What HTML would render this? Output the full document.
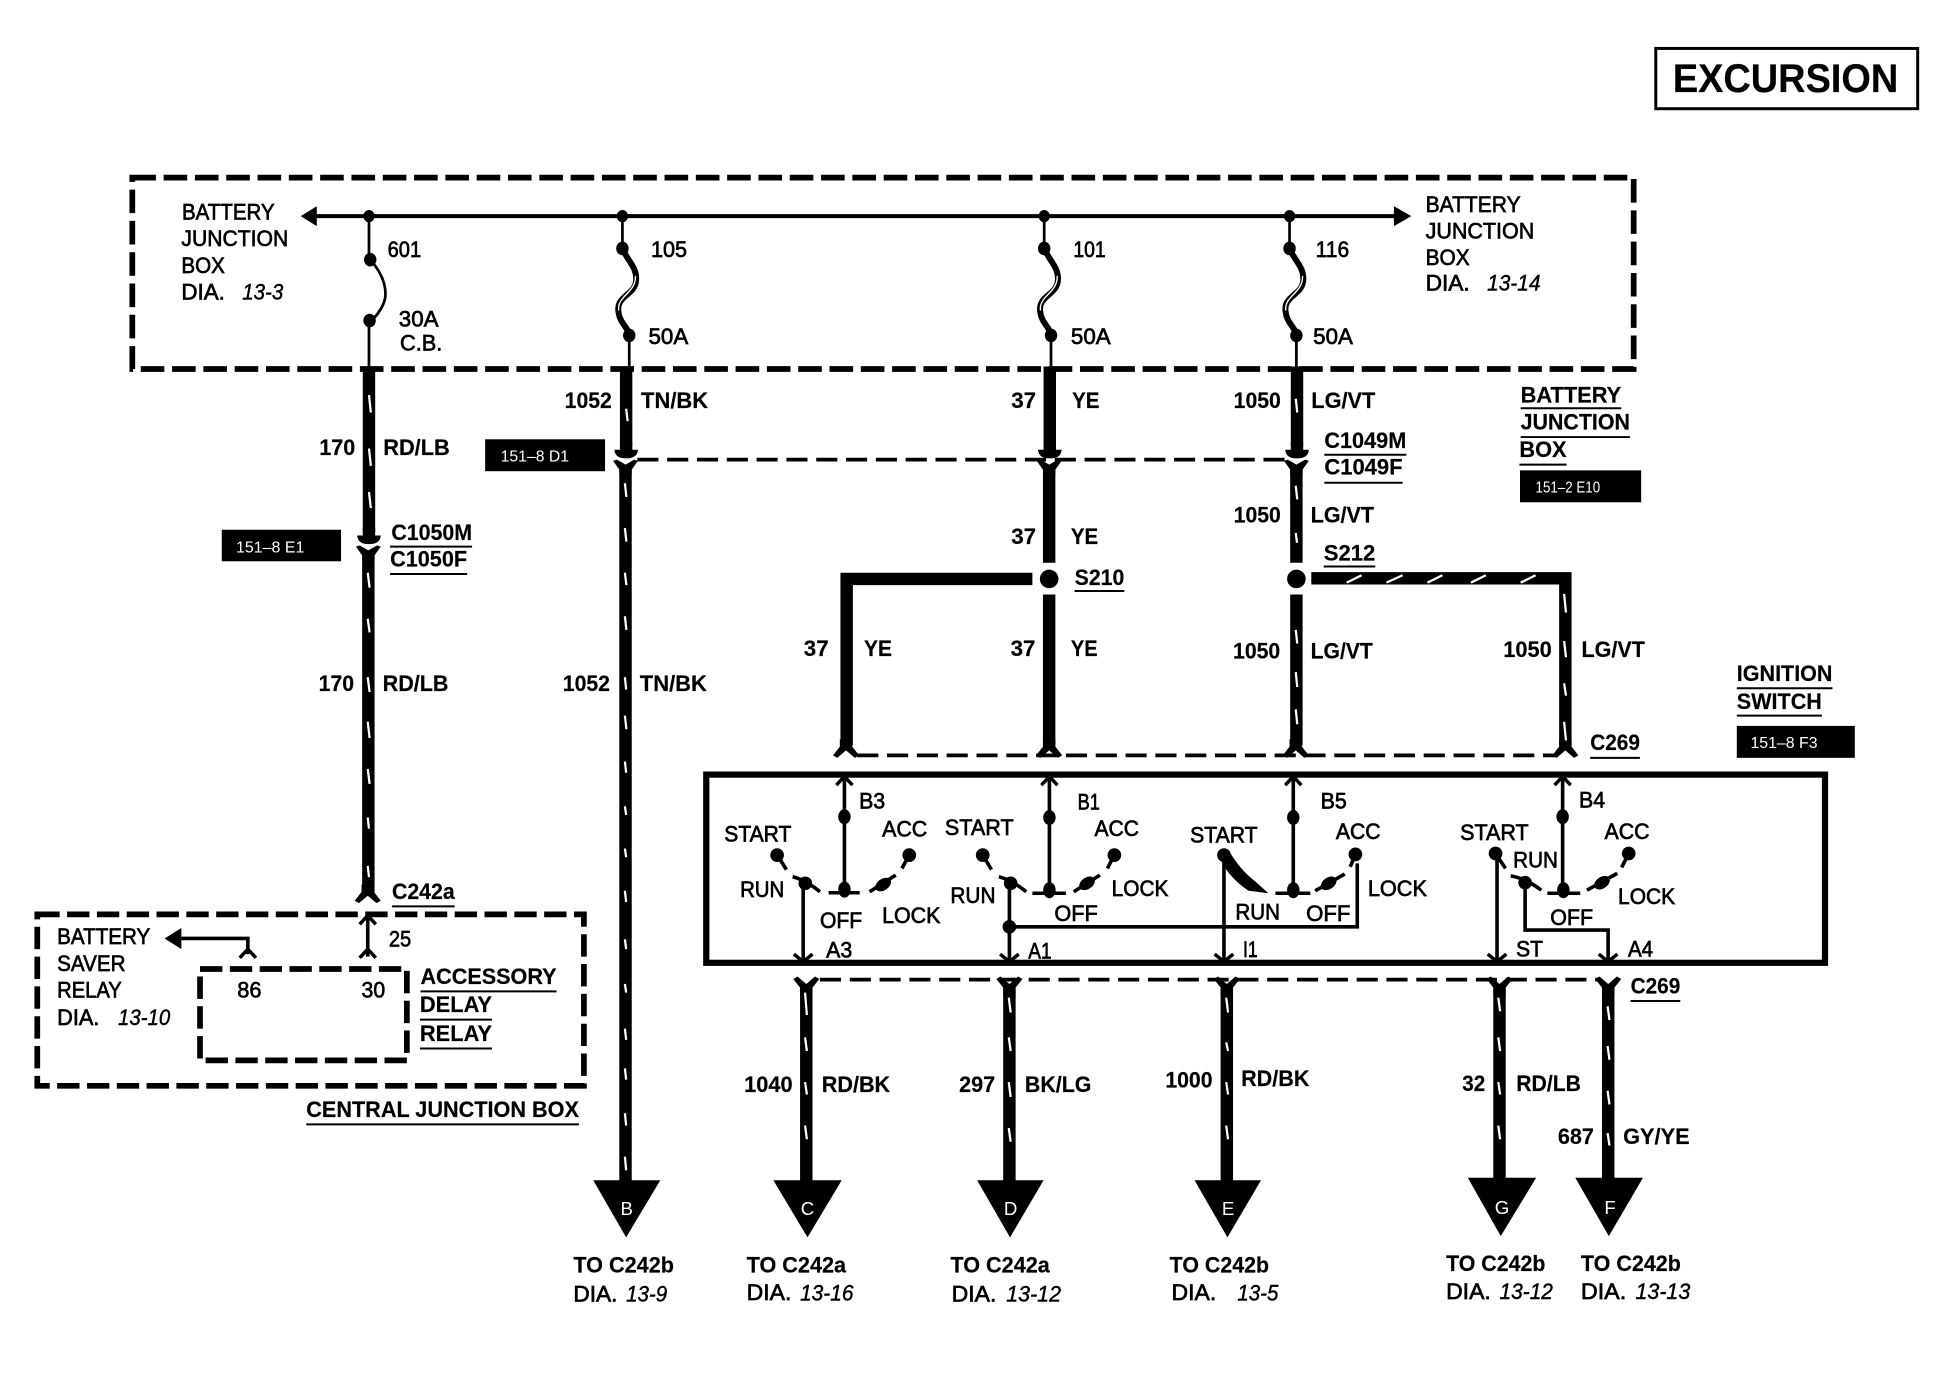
<!DOCTYPE html>
<html><head><meta charset="utf-8"><title>Excursion wiring diagram</title>
<style>
html,body{margin:0;padding:0;background:#fff}
svg{display:block}
text{font-family:"Liberation Sans",sans-serif;fill:#000}
.t{font-size:18px;stroke:#000;stroke-width:.55px}
.b{font-size:18px;font-weight:bold;stroke:#000;stroke-width:.15px}
.i{font-size:18px;font-style:italic;stroke:#000;stroke-width:.35px}
.s{font-size:12.5px;fill:#fff}
.w{font-size:15px;fill:#fff}
.n{fill:none;stroke:#000}
</style></head><body>
<svg xmlns="http://www.w3.org/2000/svg" width="1948" height="1392" viewBox="0 0 1568 1120.46">
<defs>
<path id="fd" d="M-5 -10H5V-4L10.5 3 7 5 0 -1 -7 5 -10.5 3 -5 -4Z"/>
<path id="fu" d="M-5 12H5V5L10.5 -2 7 -4 0 2 -7 -4 -10.5 -2 -5 5Z"/>
<path id="cm" d="M-5 -14H5V-8H9.5Q9 -1 0 -1Q-9 -1 -9.5 -8H-5Z"/>
<path id="cf" d="M-10 1 -7 0 0 4 7 0 10 1 5 8V12H-5V8Z"/>
<path id="sf" d="M0 200C4 210 12 215 11 226C10 238 -6 238 -3 252C-2 260 5 264 5.5 270" fill="none"/>
<path id="sw" d="M10.5 222C11 236 -4.5 238 -3 250" fill="none"/>
<polyline id="cu" points="-6.5,7 0,0 6.5,7" fill="none" stroke="#000" stroke-width="2.8"/>
<polyline id="cd" points="-7.5,-6 0,0 7.5,-6" fill="none" stroke="#000" stroke-width="2.8"/>
</defs>
<rect width="1568" height="1120.46" fill="#fff"/>

<!-- Excursion tag -->
<rect x="1332.8" y="39" width="210.8" height="48.5" class="n" stroke-width="2.4"/>
<text x="1346.5" y="74" class="b" style="font-size:32px" textLength="181.5" lengthAdjust="spacingAndGlyphs">EXCURSION</text>

<!-- dashed boxes -->
<g class="n" stroke-width="4.6">
<rect x="106.5" y="143" width="1208.5" height="154" stroke-dasharray="19 6.2"/>
<rect x="30" y="736" width="440" height="138" stroke-dasharray="18 6"/>
<rect x="161" y="780" width="166.5" height="73.5" stroke-dasharray="18 6"/>
</g>
<!-- connector dashes -->
<g class="n" stroke-width="3" stroke-dasharray="17 7">
<path d="M513 370H1034"/>
<path d="M690 608H1252"/>
<path d="M660 788.5H1288"/>
</g>

<!-- bus and fuses -->
<path d="M250 174H1128" class="n" stroke-width="3.2"/>
<path d="M242 174 255 166V182ZM1136 174 1122 166V182Z"/>
<path d="M297 174V209M298 209Q312 225 310 240Q308 250 297 260V297M501 174V200M506.5 270V297M840.5 174V200M846 270V297M1038 174V200M1043.5 270V297" class="n" stroke-width="2.2"/>
<g stroke="#000" stroke-width="4.8">
<use href="#sf" transform="translate(501,0)"/><use href="#sf" transform="translate(840.5,0)"/><use href="#sf" transform="translate(1038,0)"/>
</g>
<g stroke="#fff" stroke-width="1.1">
<use href="#sw" transform="translate(501,0)"/><use href="#sw" transform="translate(840.5,0)"/><use href="#sw" transform="translate(1038,0)"/>
</g>
<g>
<ellipse cx="297" cy="174" rx="4.5" ry="5"/><ellipse cx="501" cy="174" rx="4.5" ry="5"/><ellipse cx="840.5" cy="174" rx="4.5" ry="5"/><ellipse cx="1038" cy="174" rx="4.5" ry="5"/>
<ellipse cx="298" cy="209" rx="5" ry="5.5"/><ellipse cx="297.5" cy="258" rx="5" ry="5.5"/>
<ellipse cx="501" cy="200" rx="5" ry="5.5"/><ellipse cx="506.5" cy="270" rx="5" ry="5.5"/>
<ellipse cx="840.5" cy="200" rx="5" ry="5.5"/><ellipse cx="846" cy="270" rx="5" ry="5.5"/>
<ellipse cx="1038" cy="200" rx="5" ry="5.5"/><ellipse cx="1043.5" cy="270" rx="5" ry="5.5"/>
</g>

<!-- thick wires -->
<g class="n" stroke-width="10">
<path d="M297 295V428M296.5 447V720"/>
<path d="M504 295V358M503.5 378V955"/>
<path d="M845 295V358M844.5 378V453M844.5 478.5V600"/>
<path d="M1044 295V358M1043.5 378V453M1043.5 478.5V600"/>
<path d="M831 466H681.5V600"/>
<path d="M1055.5 465.5H1260V600"/>
<path d="M649 796V955M812.5 796V955M987.5 796V955M1207 796V953M1294.5 796V953"/>
</g>
<!-- junctions -->
<circle cx="844.5" cy="466" r="7.5"/><circle cx="1043.5" cy="466" r="7.5"/>
<!-- connectors -->
<use href="#cm" x="297" y="439"/><use href="#cf" x="296.5" y="439"/>
<use href="#cm" x="504" y="370"/><use href="#cf" x="503.5" y="370"/>
<use href="#cm" x="845" y="370"/><use href="#cf" x="844.5" y="370"/>
<use href="#cm" x="1044" y="370"/><use href="#cf" x="1043.5" y="370"/>
<use href="#fd" x="296" y="722"/>
<use href="#fd" x="681" y="605"/><use href="#fd" x="844.5" y="605"/><use href="#fd" x="1043" y="605"/><use href="#fd" x="1260" y="605"/>
<use href="#fu" x="649" y="790"/><use href="#fu" x="812.5" y="790"/><use href="#fu" x="987.5" y="790"/><use href="#fu" x="1207" y="790"/><use href="#fu" x="1294.5" y="790"/>

<!-- white ticks -->
<path class="n" style="stroke:#fff" stroke-width="1.8" d="M297 318l1.5 14M297 361l1.5 14M297 396l1.5 13M296 461l1.5 12M296 498l1.5 11M296 545l1.5 12M296 581l1.5 13M296 619l1.5 12M296 658l1 9M296 697l1 9
M504 329l1.2 10M503 389l1.2 11M503 425l1.2 11M503 461l1.2 10M503 496l1.2 11M503 545l1 10M503 576l1.2 11M503 613l1 9M503 649l1 7M503 683l1 7M503 717l1 9M503 756l1 8M503 792l1 7M503 828l1 9M503 860l1 9M503 896l1 10M503 931l1 11
M1043 321l1.2 11M1043 391l1.2 11M1043 429l1 8M1043 507l1.2 11M1043 541l1.2 12M1043 571l1.2 12
M1084 469l12 -6M1116 469l13 -6M1149 469l12 -6M1184 469l12 -6M1224 469l12 -6
M1259 478l1.5 15M1259 516l1.5 13M1259 550l1.5 10M1259 581l1.5 15
M648 799l1.5 18M648 835l1.5 11M648 871l1.5 10M648 906l1.5 11
M812 803l1.5 12M812 835l1.5 11M812 871l1.5 12M812 908l1.5 11
M987 803l1.5 12M987 839l1.5 7M987 871l1.5 10M987 906l1.5 11
M1206 803l1.5 11M1206 835l1.5 11M1206 871l1.5 10M1206 906l1.5 11
M1294 810l1.5 11M1294 842l1.5 11M1294 878l1.5 11M1294 912l1.5 10"/>

<!-- arrowheads -->
<path d="M477.5 950H531.5L504 996Z"/>
<path d="M622.5 950H677.5L650 996Z"/>
<path d="M786.5 950H840L813 996Z"/>
<path d="M961.5 950H1015L988 996Z"/>
<path d="M1181.5 948H1236.5L1208 995Z"/>
<path d="M1268 948H1322.5L1295 995Z"/>
<text x="504.5" y="978" class="w" text-anchor="middle">B</text>
<text x="650" y="978" class="w" text-anchor="middle">C</text>
<text x="813.5" y="978" class="w" text-anchor="middle">D</text>
<text x="988.5" y="978" class="w" text-anchor="middle">E</text>
<text x="1209" y="977" class="w" text-anchor="middle">G</text>
<text x="1296" y="977" class="w" text-anchor="middle">F</text>

<!-- ignition switch -->
<rect x="568.5" y="623.5" width="900.5" height="151.5" class="n" stroke-width="5"/>
<!-- contacts -->
<g class="n" stroke-width="2.9">
<path d="M679.7 626V718M667 718.6H692M625.5 688L633 700M638 705.7Q648 708 660 717.8M646.5 711V773M731.9 688L726 699M700 717.8L721 704.4"/>
<path d="M844.7 626V719M831 719H858M791 688L798 700M804 705.7Q814 708 826 717.8M812.5 711V773M812.5 746H1092.5V695M897 688L891.4 699M864.3 717.8L885.3 704.4"/>
<path d="M1041 626V719M1026.6 719H1054.7M985.2 690V773M1091 688L1086.8 697.7M1058.6 717L1082.4 703.6"/>
<path d="M1257.8 626V719M1245.5 719H1272M1205 687V773M1203.8 687L1211.8 699M1216 705Q1228 707 1240.6 716.5M1227.6 710V748.6H1294.4V773M1311 687L1305.3 698.2M1277.4 716.5L1301.8 703"/>
</g>
<g>
<ellipse cx="679.7" cy="657.4" rx="5" ry="6"/><ellipse cx="679.7" cy="716" rx="5" ry="6.5"/><circle cx="625.5" cy="688.3" r="5.5"/><circle cx="648.2" cy="711" r="5.5"/><circle cx="731.9" cy="688.3" r="5.5"/><ellipse cx="710.9" cy="712" rx="7" ry="4.6" transform="rotate(-35 710.9 712)"/>
<ellipse cx="844.7" cy="658" rx="5" ry="6"/><ellipse cx="844.7" cy="716.5" rx="5" ry="6.5"/><circle cx="791" cy="688.3" r="5.5"/><circle cx="813.5" cy="711" r="5.5"/><circle cx="812.5" cy="746" r="5.5"/><circle cx="897" cy="688.3" r="5.5"/><ellipse cx="875" cy="711" rx="7" ry="4.6" transform="rotate(-35 875 711)"/>
<ellipse cx="1041" cy="658" rx="5" ry="6"/><ellipse cx="1041" cy="716.5" rx="5" ry="6.5"/><circle cx="985.2" cy="688.3" r="5.5"/><circle cx="1091" cy="687.7" r="5.5"/><ellipse cx="1069.5" cy="711" rx="7" ry="4.6" transform="rotate(-35 1069.5 711)"/>
<path d="M981 688Q987 705 1005 717L1021 719L1011 710Q998 700 990 686Z"/>
<ellipse cx="1257.8" cy="657.4" rx="5" ry="6"/><ellipse cx="1258.4" cy="716.5" rx="5" ry="6.5"/><circle cx="1203.8" cy="687" r="5.5"/><circle cx="1227.6" cy="710.5" r="5.5"/><circle cx="1311" cy="687" r="5.5"/><ellipse cx="1289.5" cy="710.5" rx="7" ry="4.6" transform="rotate(-35 1289.5 710.5)"/>
</g>
<use href="#cu" x="679.7" y="625"/><use href="#cu" x="844.7" y="625"/><use href="#cu" x="1041" y="625"/><use href="#cu" x="1257.8" y="625"/>
<use href="#cd" x="646.5" y="774"/><use href="#cd" x="812.5" y="774"/><use href="#cd" x="985.2" y="774"/><use href="#cd" x="1205" y="774"/><use href="#cd" x="1294.4" y="774"/>

<!-- central junction box internals -->
<path d="M296 737V770M146 755.4H199.5V768" class="n" stroke-width="2.9"/>
<path d="M132.5 755.4 146 747V764Z"/>
<use href="#cu" x="296" y="737"/><use href="#cu" x="296" y="764"/><use href="#cu" x="199.5" y="764"/>

<!-- black tags -->
<rect x="390.5" y="353.6" width="96.5" height="25.7"/>
<rect x="178.5" y="426.4" width="96" height="25.4"/>
<rect x="1223.5" y="378.6" width="97.5" height="25.7"/>
<rect x="1398" y="584.3" width="95" height="25.7"/>
<text x="403" y="371.4" class="s" textLength="55" lengthAdjust="spacingAndGlyphs">151–8 D1</text>
<text x="190" y="444.6" class="s" textLength="55" lengthAdjust="spacingAndGlyphs">151–8 E1</text>
<text x="1236" y="396.4" class="s" textLength="52" lengthAdjust="spacingAndGlyphs">151–2 E10</text>
<text x="1409" y="602" class="s" textLength="54" lengthAdjust="spacingAndGlyphs">151–8 F3</text>

<!-- underlines -->
<path class="n" stroke-width="1.6" d="M314 440H380M314 462H376M1066 366H1132M1066 388.6H1129M1224 328.6H1305M1224 351.8H1312M1223 374H1261M1065.5 456H1107M865 475.7H905M1398 554H1475M1398 576H1466.5M1280 610H1320M1312.5 805.7H1352.5M315.5 729.6H366M338.5 798H448M338 820.7H396M338 844H396M246.5 905H466"/>

<!-- labels: battery junction left -->
<text x="146.5" y="176.8" class="t" textLength="74.5" lengthAdjust="spacingAndGlyphs">BATTERY</text>
<text x="146" y="198.2" class="t" textLength="86" lengthAdjust="spacingAndGlyphs">JUNCTION</text>
<text x="146" y="219.6" class="t" textLength="35" lengthAdjust="spacingAndGlyphs">BOX</text>
<text x="146" y="241" class="t" textLength="35" lengthAdjust="spacingAndGlyphs">DIA.</text>
<text x="195" y="241" class="i" textLength="33" lengthAdjust="spacingAndGlyphs">13-3</text>
<text x="1147.5" y="170.7" class="t" textLength="76.5" lengthAdjust="spacingAndGlyphs">BATTERY</text>
<text x="1147.5" y="192" class="t" textLength="87.5" lengthAdjust="spacingAndGlyphs">JUNCTION</text>
<text x="1147.5" y="213.2" class="t" textLength="35.5" lengthAdjust="spacingAndGlyphs">BOX</text>
<text x="1147.5" y="234" class="t" textLength="35.5" lengthAdjust="spacingAndGlyphs">DIA.</text>
<text x="1197" y="234" class="i" textLength="43" lengthAdjust="spacingAndGlyphs">13-14</text>

<text x="312" y="207" class="t" textLength="27" lengthAdjust="spacingAndGlyphs">601</text>
<text x="524" y="207" class="t" textLength="29" lengthAdjust="spacingAndGlyphs">105</text>
<text x="864" y="207" class="t" textLength="26" lengthAdjust="spacingAndGlyphs">101</text>
<text x="1059" y="207" class="t" textLength="27" lengthAdjust="spacingAndGlyphs">116</text>
<text x="321" y="263" class="t" textLength="32" lengthAdjust="spacingAndGlyphs">30A</text>
<text x="322" y="282" class="t" textLength="34" lengthAdjust="spacingAndGlyphs">C.B.</text>
<text x="522" y="276.8" class="t" textLength="32" lengthAdjust="spacingAndGlyphs">50A</text>
<text x="862" y="277" class="t" textLength="32" lengthAdjust="spacingAndGlyphs">50A</text>
<text x="1057" y="277" class="t" textLength="32" lengthAdjust="spacingAndGlyphs">50A</text>

<!-- wire labels -->
<text x="454.5" y="328.6" class="b" textLength="38" lengthAdjust="spacingAndGlyphs">1052</text>
<text x="516" y="328.6" class="b" textLength="54" lengthAdjust="spacingAndGlyphs">TN/BK</text>
<text x="814" y="328.6" class="b" textLength="20" lengthAdjust="spacingAndGlyphs">37</text>
<text x="863" y="328.6" class="b" textLength="22" lengthAdjust="spacingAndGlyphs">YE</text>
<text x="993" y="328.6" class="b" textLength="38" lengthAdjust="spacingAndGlyphs">1050</text>
<text x="1055.5" y="328.6" class="b" textLength="51.5" lengthAdjust="spacingAndGlyphs">LG/VT</text>
<text x="257" y="366.4" class="b" textLength="29" lengthAdjust="spacingAndGlyphs">170</text>
<text x="308.5" y="366.4" class="b" textLength="53.5" lengthAdjust="spacingAndGlyphs">RD/LB</text>
<text x="315" y="434.6" class="b" textLength="65" lengthAdjust="spacingAndGlyphs">C1050M</text>
<text x="314" y="456" class="b" textLength="62" lengthAdjust="spacingAndGlyphs">C1050F</text>
<text x="1066" y="360.7" class="b" textLength="66" lengthAdjust="spacingAndGlyphs">C1049M</text>
<text x="1066" y="382" class="b" textLength="63" lengthAdjust="spacingAndGlyphs">C1049F</text>
<text x="1224" y="324" class="b" textLength="81" lengthAdjust="spacingAndGlyphs">BATTERY</text>
<text x="1224" y="345.7" class="b" textLength="88" lengthAdjust="spacingAndGlyphs">JUNCTION</text>
<text x="1223" y="368" class="b" textLength="38" lengthAdjust="spacingAndGlyphs">BOX</text>
<text x="993" y="420.7" class="b" textLength="38" lengthAdjust="spacingAndGlyphs">1050</text>
<text x="1055" y="420.7" class="b" textLength="51" lengthAdjust="spacingAndGlyphs">LG/VT</text>
<text x="814" y="437.9" class="b" textLength="20" lengthAdjust="spacingAndGlyphs">37</text>
<text x="862" y="437.9" class="b" textLength="22" lengthAdjust="spacingAndGlyphs">YE</text>
<text x="1065.5" y="451" class="b" textLength="41.5" lengthAdjust="spacingAndGlyphs">S212</text>
<text x="865" y="470.7" class="b" textLength="40" lengthAdjust="spacingAndGlyphs">S210</text>
<text x="647" y="528" class="b" textLength="20" lengthAdjust="spacingAndGlyphs">37</text>
<text x="695.5" y="528" class="b" textLength="22.5" lengthAdjust="spacingAndGlyphs">YE</text>
<text x="813.5" y="528" class="b" textLength="20" lengthAdjust="spacingAndGlyphs">37</text>
<text x="862" y="528" class="b" textLength="21.5" lengthAdjust="spacingAndGlyphs">YE</text>
<text x="992.5" y="530" class="b" textLength="38" lengthAdjust="spacingAndGlyphs">1050</text>
<text x="1055" y="530" class="b" textLength="50" lengthAdjust="spacingAndGlyphs">LG/VT</text>
<text x="1210" y="529" class="b" textLength="39" lengthAdjust="spacingAndGlyphs">1050</text>
<text x="1273" y="529" class="b" textLength="51" lengthAdjust="spacingAndGlyphs">LG/VT</text>
<text x="256.5" y="556.4" class="b" textLength="28.5" lengthAdjust="spacingAndGlyphs">170</text>
<text x="308" y="556.4" class="b" textLength="53" lengthAdjust="spacingAndGlyphs">RD/LB</text>
<text x="453" y="556.4" class="b" textLength="38" lengthAdjust="spacingAndGlyphs">1052</text>
<text x="515" y="556.4" class="b" textLength="54" lengthAdjust="spacingAndGlyphs">TN/BK</text>
<text x="1398" y="548" class="b" textLength="77" lengthAdjust="spacingAndGlyphs">IGNITION</text>
<text x="1398" y="570.7" class="b" textLength="68.5" lengthAdjust="spacingAndGlyphs">SWITCH</text>
<text x="1280" y="603.5" class="b" textLength="40" lengthAdjust="spacingAndGlyphs">C269</text>
<text x="1312.5" y="799.5" class="b" textLength="40" lengthAdjust="spacingAndGlyphs">C269</text>
<text x="315.5" y="723.6" class="b" textLength="50.5" lengthAdjust="spacingAndGlyphs">C242a</text>

<!-- switch labels -->
<g>
<text x="583" y="677.5" class="t" textLength="54" lengthAdjust="spacingAndGlyphs">START</text>
<text x="595.7" y="722" class="t" textLength="35.6" lengthAdjust="spacingAndGlyphs">RUN</text>
<text x="710" y="673.5" class="t" textLength="36.4" lengthAdjust="spacingAndGlyphs">ACC</text>
<text x="660" y="747" class="t" textLength="34" lengthAdjust="spacingAndGlyphs">OFF</text>
<text x="710" y="742.8" class="t" textLength="47" lengthAdjust="spacingAndGlyphs">LOCK</text>
<text x="691.5" y="650.7" class="t" textLength="21" lengthAdjust="spacingAndGlyphs">B3</text>
<text x="665" y="770.6" class="t" textLength="21" lengthAdjust="spacingAndGlyphs">A3</text>
<text x="760.6" y="672" class="t" textLength="55.3" lengthAdjust="spacingAndGlyphs">START</text>
<text x="765" y="727" class="t" textLength="36.3" lengthAdjust="spacingAndGlyphs">RUN</text>
<text x="881" y="673" class="t" textLength="35.8" lengthAdjust="spacingAndGlyphs">ACC</text>
<text x="894.8" y="721.3" class="t" textLength="45.7" lengthAdjust="spacingAndGlyphs">LOCK</text>
<text x="848.7" y="741.4" class="t" textLength="34.9" lengthAdjust="spacingAndGlyphs">OFF</text>
<text x="867.4" y="651.5" class="t" textLength="17.9" lengthAdjust="spacingAndGlyphs">B1</text>
<text x="827.7" y="771.4" class="t" textLength="18.7" lengthAdjust="spacingAndGlyphs">A1</text>
<text x="958" y="678" class="t" textLength="54.3" lengthAdjust="spacingAndGlyphs">START</text>
<text x="1000.5" y="770.4" class="t" textLength="11.8" lengthAdjust="spacingAndGlyphs">I1</text>
<text x="994.4" y="740" class="t" textLength="35.9" lengthAdjust="spacingAndGlyphs">RUN</text>
<text x="1051.3" y="741.4" class="t" textLength="35.7" lengthAdjust="spacingAndGlyphs">OFF</text>
<text x="1075.3" y="675.4" class="t" textLength="35.9" lengthAdjust="spacingAndGlyphs">ACC</text>
<text x="1101" y="721.3" class="t" textLength="47.6" lengthAdjust="spacingAndGlyphs">LOCK</text>
<text x="1063" y="650.7" class="t" textLength="21" lengthAdjust="spacingAndGlyphs">B5</text>
<text x="1175.3" y="676.2" class="t" textLength="55.2" lengthAdjust="spacingAndGlyphs">START</text>
<text x="1218" y="698.2" class="t" textLength="36" lengthAdjust="spacingAndGlyphs">RUN</text>
<text x="1220.4" y="770" class="t" textLength="21.6" lengthAdjust="spacingAndGlyphs">ST</text>
<text x="1310.4" y="770" class="t" textLength="20.2" lengthAdjust="spacingAndGlyphs">A4</text>
<text x="1247.8" y="744.6" class="t" textLength="34.5" lengthAdjust="spacingAndGlyphs">OFF</text>
<text x="1291.5" y="675.4" class="t" textLength="36.2" lengthAdjust="spacingAndGlyphs">ACC</text>
<text x="1302.4" y="727.7" class="t" textLength="46" lengthAdjust="spacingAndGlyphs">LOCK</text>
<text x="1271" y="650" class="t" textLength="21" lengthAdjust="spacingAndGlyphs">B4</text>
</g>

<!-- central junction labels -->
<text x="46" y="760" class="t" textLength="75" lengthAdjust="spacingAndGlyphs">BATTERY</text>
<text x="46" y="781.4" class="t" textLength="55" lengthAdjust="spacingAndGlyphs">SAVER</text>
<text x="46" y="802.9" class="t" textLength="52" lengthAdjust="spacingAndGlyphs">RELAY</text>
<text x="46" y="825" class="t" textLength="34" lengthAdjust="spacingAndGlyphs">DIA.</text>
<text x="95" y="825" class="i" textLength="42" lengthAdjust="spacingAndGlyphs">13-10</text>
<text x="313" y="761.8" class="t" textLength="18" lengthAdjust="spacingAndGlyphs">25</text>
<text x="191" y="802.9" class="t" textLength="19.5" lengthAdjust="spacingAndGlyphs">86</text>
<text x="291" y="802.9" class="t" textLength="19" lengthAdjust="spacingAndGlyphs">30</text>
<text x="338.5" y="792" class="b" textLength="109.5" lengthAdjust="spacingAndGlyphs">ACCESSORY</text>
<text x="338" y="814.6" class="b" textLength="58" lengthAdjust="spacingAndGlyphs">DELAY</text>
<text x="338" y="837.9" class="b" textLength="58" lengthAdjust="spacingAndGlyphs">RELAY</text>
<text x="246.5" y="899.3" class="b" textLength="219.5" lengthAdjust="spacingAndGlyphs">CENTRAL JUNCTION BOX</text>

<!-- lower wire labels -->
<text x="599" y="879" class="b" textLength="39" lengthAdjust="spacingAndGlyphs">1040</text>
<text x="661.5" y="879" class="b" textLength="55" lengthAdjust="spacingAndGlyphs">RD/BK</text>
<text x="772" y="879" class="b" textLength="29" lengthAdjust="spacingAndGlyphs">297</text>
<text x="825" y="879" class="b" textLength="53.5" lengthAdjust="spacingAndGlyphs">BK/LG</text>
<text x="938" y="875.4" class="b" textLength="38" lengthAdjust="spacingAndGlyphs">1000</text>
<text x="999" y="874.3" class="b" textLength="55" lengthAdjust="spacingAndGlyphs">RD/BK</text>
<text x="1177" y="878" class="b" textLength="18.5" lengthAdjust="spacingAndGlyphs">32</text>
<text x="1220.5" y="878" class="b" textLength="52" lengthAdjust="spacingAndGlyphs">RD/LB</text>
<text x="1254" y="920.7" class="b" textLength="29" lengthAdjust="spacingAndGlyphs">687</text>
<text x="1306.5" y="920.7" class="b" textLength="53.5" lengthAdjust="spacingAndGlyphs">GY/YE</text>

<!-- destinations -->
<text x="461.5" y="1024.3" class="b" textLength="81" lengthAdjust="spacingAndGlyphs">TO C242b</text>
<text x="461.5" y="1047.5" class="t" textLength="35.5" lengthAdjust="spacingAndGlyphs">DIA.</text>
<text x="504" y="1047.5" class="i" textLength="33" lengthAdjust="spacingAndGlyphs">13-9</text>
<text x="601" y="1024.3" class="b" textLength="80" lengthAdjust="spacingAndGlyphs">TO C242a</text>
<text x="601" y="1046.4" class="t" textLength="36" lengthAdjust="spacingAndGlyphs">DIA.</text>
<text x="644" y="1047" class="i" textLength="43" lengthAdjust="spacingAndGlyphs">13-16</text>
<text x="765" y="1024.3" class="b" textLength="80" lengthAdjust="spacingAndGlyphs">TO C242a</text>
<text x="766" y="1047.5" class="t" textLength="36" lengthAdjust="spacingAndGlyphs">DIA.</text>
<text x="810" y="1047.5" class="i" textLength="44" lengthAdjust="spacingAndGlyphs">13-12</text>
<text x="941.5" y="1024.3" class="b" textLength="80" lengthAdjust="spacingAndGlyphs">TO C242b</text>
<text x="943" y="1046.4" class="t" textLength="36" lengthAdjust="spacingAndGlyphs">DIA.</text>
<text x="996" y="1047" class="i" textLength="33" lengthAdjust="spacingAndGlyphs">13-5</text>
<text x="1164" y="1023" class="b" textLength="80" lengthAdjust="spacingAndGlyphs">TO C242b</text>
<text x="1164" y="1045.7" class="t" textLength="36" lengthAdjust="spacingAndGlyphs">DIA.</text>
<text x="1207" y="1045.7" class="i" textLength="43" lengthAdjust="spacingAndGlyphs">13-12</text>
<text x="1272.5" y="1023" class="b" textLength="80.5" lengthAdjust="spacingAndGlyphs">TO C242b</text>
<text x="1272.5" y="1045.7" class="t" textLength="36.5" lengthAdjust="spacingAndGlyphs">DIA.</text>
<text x="1316.5" y="1045.7" class="i" textLength="44" lengthAdjust="spacingAndGlyphs">13-13</text>
</svg>
</body></html>
